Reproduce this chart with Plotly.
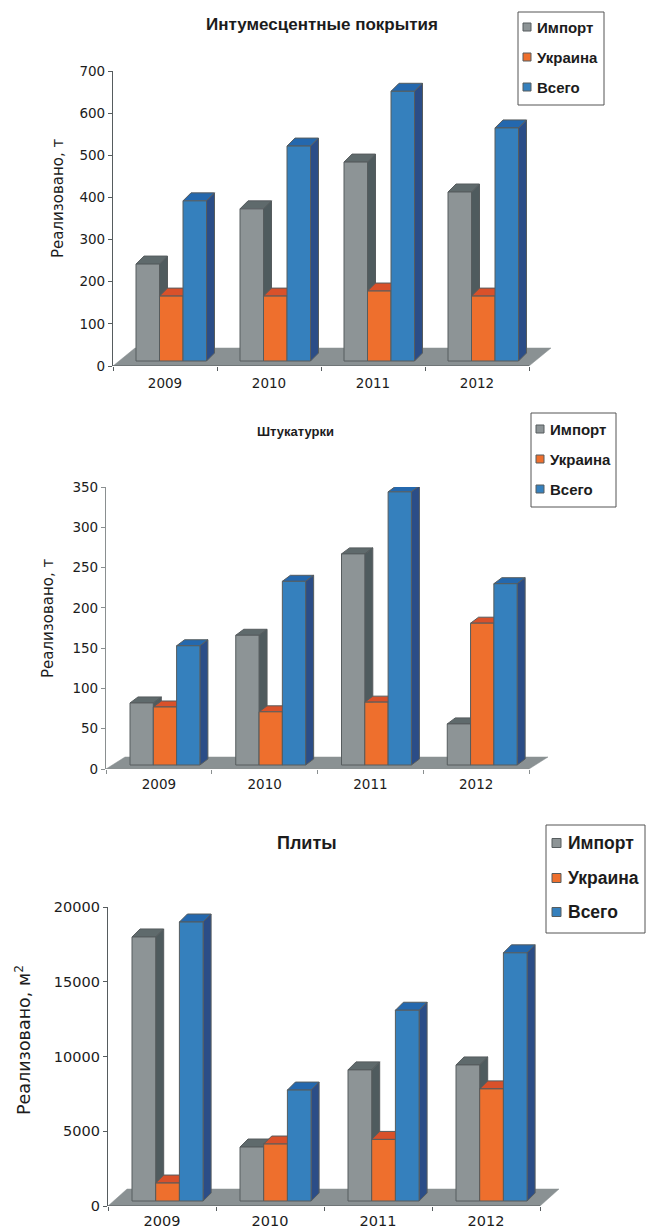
import plotly.graph_objects as go

W, H = 646, 1228
YEARS = ["2009", "2010", "2011", "2012"]
SERIES = ["Импорт", "Украина", "Всего"]

TITLE_1 = "Интумесцентные покрытия"
IMPORT_1 = [230, 361, 472, 401]
UKRAINE_1 = [154, 154, 166, 154]
TOTAL_1 = [380, 510, 640, 553]
TICKS_1 = [0, 100, 200, 300, 400, 500, 600, 700]

TITLE_2 = "Штукатурки"
IMPORT_2 = [77, 161, 262, 51]
UKRAINE_2 = [72, 66, 78, 176]
TOTAL_2 = [148, 228, 339, 225]
TICKS_2 = [0, 50, 100, 150, 200, 250, 300, 350]

TITLE_3 = "Плиты"
IMPORT_3 = [17660, 3610, 8770, 9100]
UKRAINE_3 = [1200, 3810, 4120, 7500]
TOTAL_3 = [18660, 7420, 12760, 16600]
TICKS_3 = [0, 5000, 10000, 15000, 20000]

FRONT = ["#8d9496", "#ee6f2d", "#3580bd"]
SIDE = ["#4f5b5e", "#c9502a", "#2b4d87"]
TOP = ["#5f6a6c", "#d9512a", "#2468ae"]
FLOOR = "#8a9193"
EDGE = "#565c5e"
INK = "#1c1c1c"
FONT = "DejaVu Sans"
TEXT_FONT = "Liberation Sans"

CHARTS = [
    dict(title=TITLE_1, vals=[IMPORT_1, UKRAINE_1, TOTAL_1], ticks=TICKS_1, ytitle="Реализовано, т",
         left=113, right=529, y0=366, y1=71, first=23, bw=23.5, sdx=8, sdy=8, base=5, fdx=22, fdy=18,
         axis="#565c5e", title_xy=(322, 24), title_size=17, tick_size=13.5, xlen=5,
         ax_xy=(58, 198), ax_size=15,
         lg=(518, 12, 604, 105), lg_rows=(27, 57, 87), lg_size=15, lg_sw=(523, 8), lg_tx=535),
    dict(title=TITLE_2, vals=[IMPORT_2, UKRAINE_2, TOTAL_2], ticks=TICKS_2, ytitle="Реализовано, т",
         left=106, right=529, y0=769, y1=487, first=24, bw=23.3, sdx=8, sdy=6, base=4, fdx=19, fdy=12,
         axis="#8a8f90", title_xy=(295, 431), title_size=13, tick_size=13.5, xlen=3,
         ax_xy=(48, 618), ax_size=15,
         lg=(531, 413, 616, 507), lg_rows=(429, 459, 489), lg_size=15, lg_sw=(536, 8), lg_tx=548),
    dict(title=TITLE_3, vals=[IMPORT_3, UKRAINE_3, TOTAL_3], ticks=TICKS_3, ytitle="Реализовано, м<sup>2</sup>",
         left=108, right=540, y0=1206, y1=907, first=24, bw=23.7, sdx=8, sdy=8, base=5, fdx=19, fdy=17,
         axis="#565c5e", title_xy=(307, 843), title_size=18, tick_size=14.5, xlen=2,
         ax_xy=(23, 1040), ax_size=17.5,
         lg=(546, 825, 645, 933), lg_rows=(843, 878, 912), lg_size=17.5, lg_sw=(552, 9), lg_tx=566),
]

fig = go.Figure()
layout_axes, annotations, shapes = {}, [], []

for i, c in enumerate(CHARTS):
    n = "" if i == 0 else str(i + 1)
    xa, ya = "x" + n, "y" + n
    nc = len(YEARS)
    step = (c["right"] - c["left"]) / nc
    ymax = c["ticks"][-1]
    uy = ymax / (c["y0"] - c["y1"])   # data units per pixel, vertical
    ux = 1 / step                     # data units per pixel, horizontal
    base = c["base"] * uy
    sdx, sdy = c["sdx"] * ux, c["sdy"] * uy
    fdx, fdy = c["fdx"] * ux, c["fdy"] * uy
    bw = c["bw"] * ux
    first = c["first"] * ux
    ext = c["fdx"] + 3                # room to the right of the last category for the floor

    # floor
    fig.add_trace(go.Scatter(
        x=[0, fdx, nc + fdx, nc, 0], y=[0, fdy, fdy, 0, 0],
        mode="lines", fill="toself", fillcolor=FLOOR, line=dict(color=FLOOR, width=0.5),
        xaxis=xa, yaxis=ya, showlegend=False, hoverinfo="skip"))
    # category axis line
    fig.add_trace(go.Scatter(
        x=[0, nc], y=[0, 0], mode="lines", line=dict(color=c["axis"], width=1.2),
        xaxis=xa, yaxis=ya, showlegend=False, hoverinfo="skip", cliponaxis=False))

    for s, vals in enumerate(c["vals"]):
        tx, ty, sx, sy, fx, fy = [], [], [], [], [], []
        for k, v in enumerate(vals):
            a = k + first + s * bw
            b = a + bw
            top = base + v
            tx += [a, a + sdx, b + sdx, b, a, None]
            ty += [top, top + sdy, top + sdy, top, top, None]
            sx += [b, b + sdx, b + sdx, b, b, None]
            sy += [base, base + sdy, top + sdy, top, base, None]
            fx += [a, b, b, a, a, None]
            fy += [base, base, top, top, base, None]
        for px_, py_, col in ((tx, ty, TOP[s]), (sx, sy, SIDE[s]), (fx, fy, FRONT[s])):
            fig.add_trace(go.Scatter(
                x=px_, y=py_, mode="lines", fill="toself", fillcolor=col,
                line=dict(color=EDGE, width=1), xaxis=xa, yaxis=ya, name=SERIES[s],
                showlegend=False, hoverinfo="skip"))

    xkey, ykey = "xaxis" + n, "yaxis" + n
    layout_axes[xkey] = dict(
        domain=[c["left"] / W, (c["right"] + ext) / W], range=[0, nc + ext * ux], anchor=ya,
        fixedrange=True, automargin=False,
        showgrid=False, zeroline=False, showline=False,
        tickmode="array", tickvals=[k + 0.5 for k in range(nc)], ticktext=YEARS,
        ticks="outside", ticklen=c["xlen"], tickcolor="rgba(0,0,0,0)",
        tickfont=dict(family=FONT, size=c["tick_size"], color=INK),
        minor=dict(tickmode="array", tickvals=list(range(nc + 1)), ticks="outside",
                   ticklen=4, tickcolor=c["axis"], showgrid=False))
    layout_axes[ykey] = dict(
        domain=[1 - c["y0"] / H, 1 - c["y1"] / H], range=[0, ymax], anchor=xa,
        fixedrange=True, automargin=False,
        showgrid=False, zeroline=False, showline=True, linecolor=c["axis"], linewidth=1.2,
        tickmode="array", tickvals=c["ticks"], ticktext=[str(t) for t in c["ticks"]],
        ticks="outside", ticklen=4, tickcolor=c["axis"],
        tickfont=dict(family=FONT, size=c["tick_size"], color=INK))

    annotations.append(dict(
        text=c["ytitle"], xref="paper", yref="paper", textangle=-90,
        x=c["ax_xy"][0] / W, y=1 - c["ax_xy"][1] / H, showarrow=False,
        xanchor="center", yanchor="middle", font=dict(family=FONT, size=c["ax_size"], color=INK)))

    annotations.append(dict(
        text="<b>" + c["title"] + "</b>", xref="paper", yref="paper",
        x=c["title_xy"][0] / W, y=1 - c["title_xy"][1] / H, showarrow=False,
        xanchor="center", yanchor="middle", font=dict(family=TEXT_FONT, size=c["title_size"], color=INK)))

    # legend box
    x0, y0, x1, y1 = c["lg"]
    shapes.append(dict(type="rect", xref="paper", yref="paper", x0=x0 / W, x1=x1 / W,
                       y0=1 - y0 / H, y1=1 - y1 / H, line=dict(color="#555555", width=1),
                       fillcolor="white", layer="above"))
    sw, hs = c["lg_sw"]
    for s, row in enumerate(c["lg_rows"]):
        shapes.append(dict(type="rect", xref="paper", yref="paper",
                           x0=sw / W, x1=(sw + hs) / W,
                           y0=1 - (row - hs / 2) / H, y1=1 - (row + hs / 2) / H,
                           line=dict(color=EDGE, width=1), fillcolor=FRONT[s], layer="above"))
        annotations.append(dict(
            text="<b>" + SERIES[s] + "</b>", xref="paper", yref="paper", x=c["lg_tx"] / W, y=1 - row / H,
            showarrow=False, xanchor="left", yanchor="middle",
            font=dict(family=TEXT_FONT, size=c["lg_size"], color=INK)))

fig.update_layout(
    width=W, height=H, margin=dict(l=0, r=0, t=0, b=0), autosize=False,
    paper_bgcolor="white", plot_bgcolor="rgba(0,0,0,0)", showlegend=False,
    annotations=annotations, shapes=shapes, **layout_axes)

fig.write_html("out.html", config={"displayModeBar": False},
               post_script="document.body.style.margin='0';")
